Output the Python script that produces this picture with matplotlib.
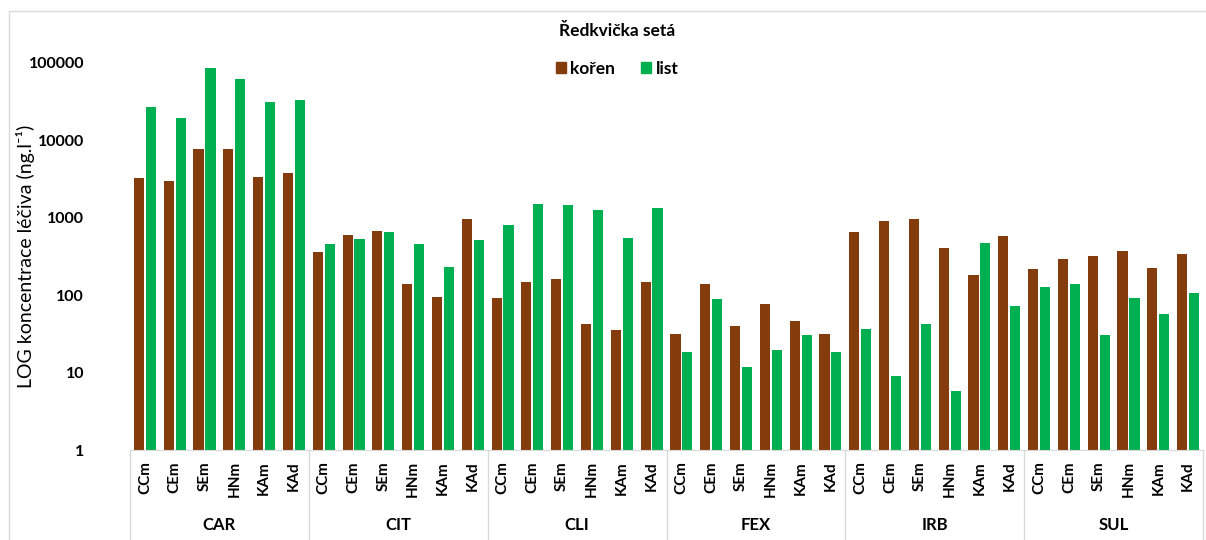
import numpy as np
import matplotlib
matplotlib.use("Agg")
import matplotlib.pyplot as plt
from matplotlib.patches import Patch, Rectangle

plt.rcParams['font.family'] = ['Lato', 'DejaVu Sans']

# data (ng/l, log scale)
groups = ["CAR", "CIT", "CLI", "FEX", "IRB", "SUL"]
sites = ["CCm", "CEm", "SEm", "HNm", "KAm", "KAd"]

koren = [
    3240, 3020, 7700, 7700, 3390, 3820,      # CAR
    358, 606, 681, 138, 94, 975,             # CIT
    91, 148, 162, 42, 36, 148,               # CLI
    32, 138, 40, 77, 46, 32,                 # FEX
    661, 910, 958, 404, 184, 588,            # IRB
    216, 296, 321, 369, 225, 340,            # SUL
]
list_ = [
    27200, 19600, 85000, 61500, 31600, 33300,
    454, 537, 661, 463, 231, 511,
    807, 1507, 1450, 1260, 543, 1350,
    18.6, 88, 11.9, 19.6, 31, 18.6,
    36.6, 9.1, 42.5, 5.8, 477, 72.5,
    126, 138, 31, 91, 58, 108,
]

brown = "#843C0C"
green = "#00B050"
grey = "#D9D9D9"

fig = plt.figure(figsize=(12.06, 5.4), dpi=100)
ax = fig.add_axes([130 / 1206, 1 - 450 / 540, 1073 / 1206, 387 / 540])

x = np.arange(len(groups) * len(sites))
w = 0.34
ax.bar(x - 0.2, koren, width=w, color=brown, label="kořen")
ax.bar(x + 0.2, list_, width=w, color=green, label="list")

ax.set_yscale("log")
ax.set_ylim(1, 100000)
ax.set_xlim(-0.5, len(x) - 0.5)
ax.set_yticks([1, 10, 100, 1000, 10000, 100000])
ax.set_yticklabels(["1", "10", "100", "1000", "10000", "100000"],
                   fontweight="bold", fontsize=11.5)
ax.minorticks_off()
ax.tick_params(axis="y", length=0, pad=33)

ax.set_xticks(x)
ax.set_xticklabels(sites * len(groups), rotation=90, fontweight="bold", fontsize=11)
ax.tick_params(axis="x", length=0, pad=8)

for s in ["top", "right", "left"]:
    ax.spines[s].set_visible(False)
ax.spines["bottom"].set_color(grey)

# group separators and group names under the ticks
trans = ax.get_xaxis_transform()
n = len(sites)
for i in range(len(groups) + 1):
    ax.plot([i * n - 0.5] * 2, [0, -0.24], color=grey, lw=1,
            transform=trans, clip_on=False)
for i, g in enumerate(groups):
    ax.text(i * n + (n - 1) / 2, -0.194, g, transform=trans, ha="center",
            va="center", fontweight="bold", fontsize=12)

ax.set_ylabel("LOG koncentrace léčiva (ng.l⁻¹)", fontsize=14)
ax.yaxis.set_label_coords(-0.0885, 0.5)

fig.text(617 / 1206, 1 - 31 / 540, "Ředkvička setá", ha="center", va="center",
         fontweight="bold", fontsize=12.5)
handles = [Patch(color=brown), Patch(color=green)]
fig.legend(handles, ["kořen", "list"], loc="center", ncol=2, frameon=False,
           bbox_to_anchor=(617 / 1206, 1 - 69 / 540), handlelength=0.58,
           handleheight=0.58, handletextpad=0.25, columnspacing=1.5,
           prop={"weight": "bold", "size": 12.5})

# chart border like the Excel frame
fig.patches.append(Rectangle((9 / 1206, -0.1), 1.2, 1.1 - 11 / 540,
                             transform=fig.transFigure, fill=False,
                             edgecolor=grey, lw=1))

fig.savefig("out.png", dpi=100)
